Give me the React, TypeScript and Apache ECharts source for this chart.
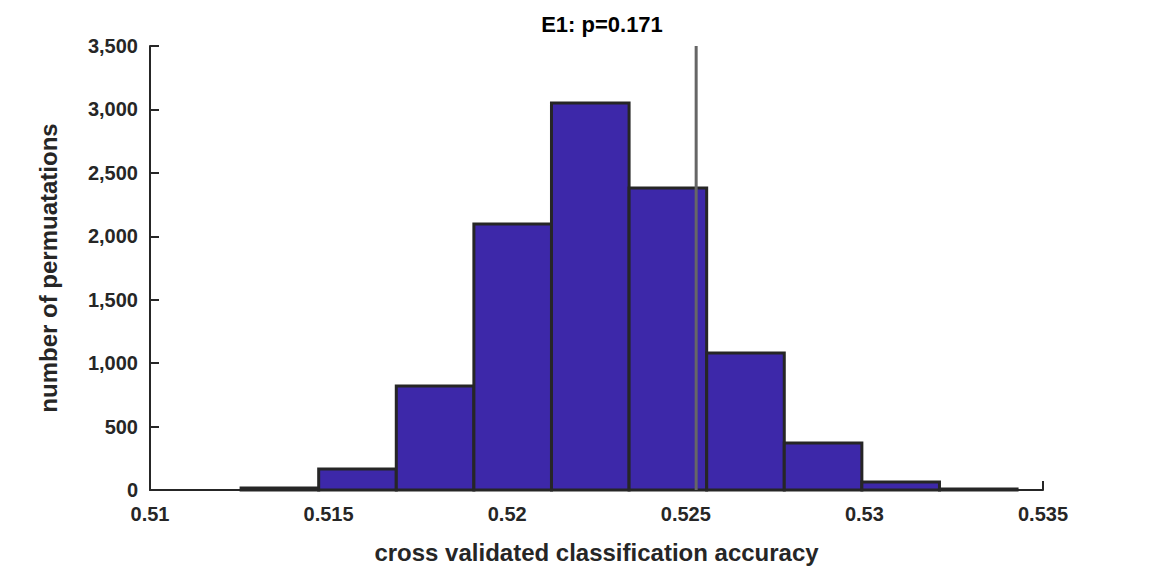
import React, { useEffect, useRef } from "react";
import * as echarts from "echarts";

const binStart = 0.51255;
const binWidth = 0.0021724;
const counts = [15, 165, 820, 2097, 3050, 2380, 1080, 370, 63, 8];
const xTicks = [0.51, 0.515, 0.52, 0.525, 0.53, 0.535];
const observed = 0.52529;
const titleText = "E1: p=0.171";

export default function App() {
  const ref = useRef<HTMLDivElement>(null);
  useEffect(() => {
    const chart = echarts.init(ref.current!, null, { renderer: "svg" });
    const data = counts.map((c, i) => [binStart + i * binWidth, binStart + (i + 1) * binWidth, c]);
    const font = "Liberation Sans, Arial, sans-serif";
    chart.setOption({
      animation: false,
      title: {
        text: titleText,
        left: 597,
        textAlign: "center",
        top: 8,
        textStyle: { fontFamily: font, fontWeight: "bold", fontSize: 22, color: "#000" },
      },
      grid: { left: 150, right: 109, top: 46, bottom: 86 },
      xAxis: {
        type: "value",
        min: 0.51,
        max: 0.535,
        interval: 0.005,
        name: "cross validated classification accuracy",
        nameLocation: "middle",
        nameGap: 50,
        nameTextStyle: { fontFamily: font, fontWeight: "bold", fontSize: 24, color: "#262626" },
        axisLine: { lineStyle: { color: "#262626", width: 2 } },
        axisTick: { inside: true, length: 9, lineStyle: { color: "#262626", width: 2 } },
        axisLabel: {
          fontFamily: font, fontWeight: "bold", fontSize: 20, color: "#262626", margin: 14,
          formatter: (v: number) => String(+v.toFixed(3)),
        },
        splitLine: { show: false },
      },
      yAxis: {
        type: "value",
        min: 0,
        max: 3500,
        interval: 500,
        name: "number of permuatations",
        nameLocation: "middle",
        nameGap: 90,
        nameTextStyle: { fontFamily: font, fontWeight: "bold", fontSize: 24, color: "#262626" },
        axisLine: { show: true, lineStyle: { color: "#262626", width: 2 } },
        axisTick: { show: true, inside: true, length: 9, lineStyle: { color: "#262626", width: 2 } },
        axisLabel: { fontFamily: font, fontWeight: "bold", fontSize: 20, color: "#262626", margin: 12 },
        splitLine: { show: false },
      },
      series: [
        {
          type: "custom",
          data,
          renderItem: (params: any, api: any) => {
            const p0 = api.coord([api.value(0), api.value(2)]);
            const p1 = api.coord([api.value(1), 0]);
            return {
              type: "rect",
              shape: { x: p0[0], y: p0[1], width: p1[0] - p0[0], height: p1[1] - p0[1] },
              style: { fill: "#3d28a9", stroke: "#262626", lineWidth: 3 },
            };
          },
          encode: { x: [0, 1], y: 2 },
        },
        {
          type: "line",
          data: [[observed, 0], [observed, 3500]],
          symbol: "none",
          lineStyle: { color: "#666666", width: 3 },
          z: 5,
        },
      ],
    });
    return () => chart.dispose();
  }, []);
  return <div ref={ref} style={{ width: 1152, height: 576, marginLeft: -8, marginTop: -8 }} />;
}
